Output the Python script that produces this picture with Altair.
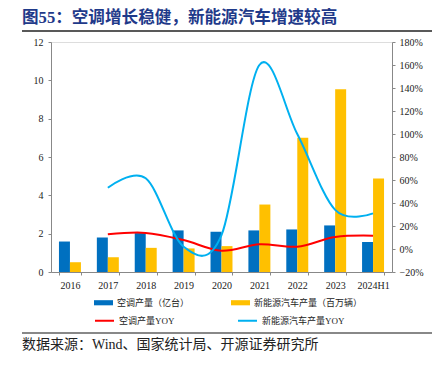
import altair as alt
import pandas as pd

categories = ["2016", "2017", "2018", "2019", "2020", "2021", "2022", "2023", "2024H1"]
ac_output = [1.59, 1.80, 2.03, 2.17, 2.10, 2.17, 2.22, 2.43, 1.56]
nev_output = [0.51, 0.77, 1.26, 1.23, 1.35, 3.52, 7.00, 9.53, 4.88]
ac_yoy = [None, 0.128, 0.14, 0.078, -0.015, 0.041, 0.02, 0.104, 0.116]
nev_yoy = [None, 0.533, 0.615, 0.02, 0.12, 1.60, 1.00, 0.34, 0.31]

bar_names = ["空调产量（亿台）", "新能源汽车产量（百万辆）"]
line_names = ["空调产量YOY", "新能源汽车产量YOY"]
bar_colors = ["#0070C0", "#FFC000"]
line_colors = ["#FF0000", "#00B0F0"]

title_text = "图55：空调增长稳健，新能源汽车增速较高"
source_text = "数据来源：Wind、国家统计局、开源证券研究所"

bars_df = pd.DataFrame(
    [{"cat": c, "series": bar_names[0], "value": v} for c, v in zip(categories, ac_output)]
    + [{"cat": c, "series": bar_names[1], "value": v} for c, v in zip(categories, nev_output)]
)
lines_df = pd.DataFrame(
    [{"cat": c, "series": line_names[0], "yoy": v} for c, v in zip(categories, ac_yoy)]
    + [{"cat": c, "series": line_names[1], "yoy": v} for c, v in zip(categories, nev_yoy)]
)

FONT = "Liberation Serif, Noto Sans CJK SC"
W, H = 341, 230

xscale = alt.Scale(domain=categories, paddingInner=0.42, paddingOuter=0.21)
xaxis = alt.Axis(title=None, labelAngle=0, labelFont=FONT, labelFontSize=10,
                 labelColor="#222", domainColor="#888", tickColor="#888",
                 tickSize=3, tickBand="extent", labelPadding=5)

bars = alt.Chart(bars_df).mark_bar().encode(
    x=alt.X("cat:N", scale=xscale, axis=xaxis, sort=categories),
    xOffset=alt.XOffset("series:N", scale=alt.Scale(domain=bar_names)),
    y=alt.Y("value:Q", scale=alt.Scale(domain=[0, 12]),
            axis=alt.Axis(title=None, orient="left", values=[0, 2, 4, 6, 8, 10, 12],
                          grid=False, labelFont=FONT, labelFontSize=10, labelColor="#222",
                          domainColor="#888", tickColor="#888", tickSize=3, labelPadding=5)),
    fill=alt.Fill("series:N", scale=alt.Scale(domain=bar_names, range=bar_colors),
                  legend=alt.Legend(title=None, orient="none", legendX=43, legendY=251,
                                    direction="horizontal", columns=2, columnPadding=41,
                                    symbolType="M-1,-0.27H1V0.27H-1Z", symbolSize=361,
                                    labelFont=FONT, labelFontSize=9, labelColor="#222",
                                    labelOffset=4, padding=0, symbolStrokeWidth=0)),
)

lines = alt.Chart(lines_df).mark_line(interpolate="cardinal", strokeWidth=2).encode(
    x=alt.X("cat:N", scale=xscale, axis=xaxis, sort=categories),
    y=alt.Y("yoy:Q", scale=alt.Scale(domain=[-0.2, 1.8]),
            axis=alt.Axis(title=None, orient="right", format=".0%",
                          values=[-0.2, 0, 0.2, 0.4, 0.6, 0.8, 1.0, 1.2, 1.4, 1.6, 1.8],
                          grid=False, labelFont=FONT, labelFontSize=10, labelColor="#222",
                          domainColor="#888", tickColor="#888", tickSize=3, labelPadding=4)),
    stroke=alt.Stroke("series:N", scale=alt.Scale(domain=line_names, range=line_colors),
                      legend=alt.Legend(title=None, orient="none", legendX=43, legendY=268,
                                        direction="horizontal", columns=2, columnPadding=59,
                                        symbolType="stroke", symbolSize=361, symbolStrokeWidth=2,
                                        labelFont=FONT, labelFontSize=9, labelColor="#222",
                                        labelOffset=4, padding=0)),
)

one = pd.DataFrame({"k": [0]})

title = alt.Chart(one).mark_text(
    align="left", baseline="middle", font=FONT, fontSize=16.6, fontWeight="bold", color="#1F3A8A"
).encode(x=alt.value(-29), y=alt.value(-24), text=alt.value(title_text))

title_rule = alt.Chart(one).mark_rule(color="#222", strokeWidth=1.5).encode(
    x=alt.value(-29), x2=alt.value(381), y=alt.value(-11))

source_rule = alt.Chart(one).mark_rule(color="#888", strokeWidth=2).encode(
    x=alt.value(-29), x2=alt.value(381), y=alt.value(291))

source = alt.Chart(one).mark_text(
    align="left", baseline="middle", font=FONT, fontSize=14, color="#222"
).encode(x=alt.value(-29), y=alt.value(303), text=alt.value(source_text))

chart = alt.layer(bars, lines, title, title_rule, source_rule, source).resolve_scale(
    y="independent"
).properties(
    width=W, height=H,
    autosize=alt.AutoSizeParams(type="none"),
    padding={"left": 43, "top": 34, "right": 42, "bottom": 86},
).configure_view(stroke=None).configure(background="white")

chart.save("out.html", embed_options={"renderer": "svg", "actions": False})
